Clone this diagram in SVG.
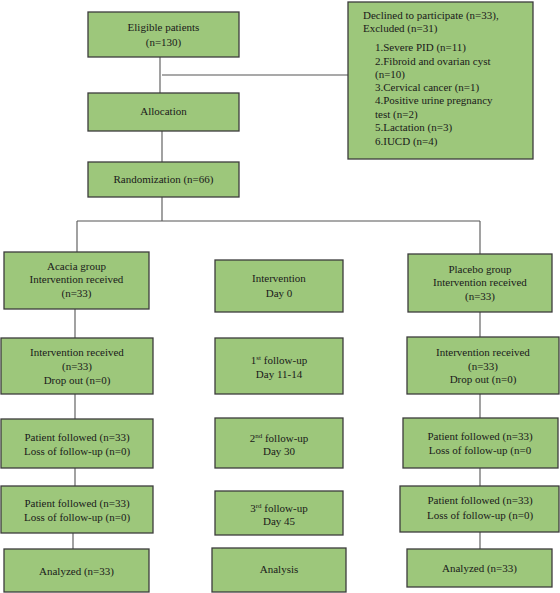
<svg xmlns="http://www.w3.org/2000/svg" width="560" height="593" viewBox="0 0 560 593">
<style>
.box{fill:#9dc77b;stroke:#3c3c3c;stroke-width:1.3}
.t{font-family:"Liberation Serif","Times New Roman",serif;font-size:11px;fill:#1a1a1a;text-anchor:middle}
.l{font-family:"Liberation Serif","Times New Roman",serif;font-size:11px;fill:#1a1a1a}
.sup{font-size:7px}
.c{stroke:#555;stroke-width:1.1;fill:none}
</style>
<rect width="560" height="593" fill="#fff"/>
<g id="connectors">
<path class="c" d="M160,57 V93"/>
<path class="c" d="M162,75 H348"/>
<path class="c" d="M162,131 V162"/>
<path class="c" d="M162,197 V221"/>
<path class="c" d="M77,221 H480"/>
<path class="c" d="M77,221 V252"/>
<path class="c" d="M480,221 V254"/>
<path class="c" d="M75,309 V338"/>
<path class="c" d="M480,312 V337"/>
<path class="c" d="M75,394 V419"/>
<path class="c" d="M480,394 V418"/>
<path class="c" d="M75,468 V486"/>
<path class="c" d="M480,468 V486"/>
<path class="c" d="M73,533 V549"/>
<path class="c" d="M480,532 V549"/>
</g>
<g id="eligible"><rect class="box" x="88" y="12" width="151" height="45"/>
<text class="t" x="163.5" y="31">Eligible patients</text><text class="t" x="163.5" y="46">(n=130)</text></g>
<g id="declined"><rect class="box" x="348" y="2" width="185" height="157"/>
<text class="l" x="363" y="19">Declined to participate (n=33),</text>
<text class="l" x="363" y="32">Excluded (n=31)</text>
<text class="l" x="375" y="51">1.Severe PID (n=11)</text>
<text class="l" x="375" y="65">2.Fibroid and ovarian cyst</text>
<text class="l" x="375" y="78">(n=10)</text>
<text class="l" x="375" y="91">3.Cervical cancer (n=1)</text>
<text class="l" x="375" y="104">4.Positive urine pregnancy</text>
<text class="l" x="375" y="118">test (n=2)</text>
<text class="l" x="375" y="131">5.Lactation (n=3)</text>
<text class="l" x="375" y="145">6.IUCD (n=4)</text></g>
<g id="allocation"><rect class="box" x="88" y="93" width="151" height="38"/>
<text class="t" x="163.5" y="115">Allocation</text></g>
<g id="randomization"><rect class="box" x="88" y="162" width="151" height="35"/>
<text class="t" x="163.5" y="183">Randomization (n=66)</text></g>
<g id="acacia"><rect class="box" x="4" y="252" width="145" height="57"/>
<text class="t" x="76.5" y="270">Acacia group</text><text class="t" x="76.5" y="283">Intervention received</text><text class="t" x="76.5" y="297">(n=33)</text></g>
<g id="interventionDay0"><rect class="box" x="215" y="260" width="128" height="52"/>
<text class="t" x="279" y="282">Intervention</text><text class="t" x="279" y="297">Day 0</text></g>
<g id="placebo"><rect class="box" x="408" y="254" width="144" height="58"/>
<text class="t" x="480" y="273">Placebo group</text><text class="t" x="480" y="286">Intervention received</text><text class="t" x="480" y="300">(n=33)</text></g>
<g id="acaciaReceived"><rect class="box" x="1" y="338" width="152" height="56"/>
<text class="t" x="77" y="356">Intervention received</text><text class="t" x="77" y="370">(n=33)</text><text class="t" x="77" y="384">Drop out (n=0)</text></g>
<g id="followup1"><rect class="box" x="215" y="338" width="128" height="56"/>
<text class="t" x="279" y="364">1<tspan class="sup" dy="-4">st</tspan><tspan dy="4"> follow-up</tspan></text><text class="t" x="279" y="378">Day 11-14</text></g>
<g id="placeboReceived"><rect class="box" x="407" y="337" width="152" height="57"/>
<text class="t" x="483" y="356">Intervention received</text><text class="t" x="483" y="370">(n=33)</text><text class="t" x="483" y="383">Drop out (n=0)</text></g>
<g id="acaciaFollow1"><rect class="box" x="1" y="419" width="152" height="49"/>
<text class="t" x="77" y="441">Patient followed (n=33)</text><text class="t" x="77" y="455">Loss of follow-up (n=0)</text></g>
<g id="followup2"><rect class="box" x="215" y="418" width="128" height="50"/>
<text class="t" x="279" y="442">2<tspan class="sup" dy="-4">nd</tspan><tspan dy="4"> follow-up</tspan></text><text class="t" x="279" y="455">Day 30</text></g>
<g id="placeboFollow1"><rect class="box" x="403" y="418" width="155" height="50"/>
<text class="t" x="480" y="440">Patient followed (n=33)</text><text class="t" x="480" y="454">Loss of follow-up (n=0</text></g>
<g id="acaciaFollow2"><rect class="box" x="1" y="486" width="152" height="47"/>
<text class="t" x="77" y="507">Patient followed (n=33)</text><text class="t" x="77" y="521">Loss of follow-up (n=0)</text></g>
<g id="followup3"><rect class="box" x="215" y="491" width="128" height="44"/>
<text class="t" x="279" y="512">3<tspan class="sup" dy="-4">rd</tspan><tspan dy="4"> follow-up</tspan></text><text class="t" x="279" y="525">Day 45</text></g>
<g id="placeboFollow2"><rect class="box" x="400" y="486" width="159" height="46"/>
<text class="t" x="480" y="504">Patient followed (n=33)</text><text class="t" x="480" y="519">Loss of follow-up (n=0)</text></g>
<g id="acaciaAnalyzed"><rect class="box" x="4" y="549" width="145" height="43"/>
<text class="t" x="76.5" y="575">Analyzed (n=33)</text></g>
<g id="analysis"><rect class="box" x="212" y="548" width="134" height="44"/>
<text class="t" x="279" y="573">Analysis</text></g>
<g id="placeboAnalyzed"><rect class="box" x="407" y="549" width="145" height="38"/>
<text class="t" x="479.5" y="572">Analyzed (n=33)</text></g>
</svg>
